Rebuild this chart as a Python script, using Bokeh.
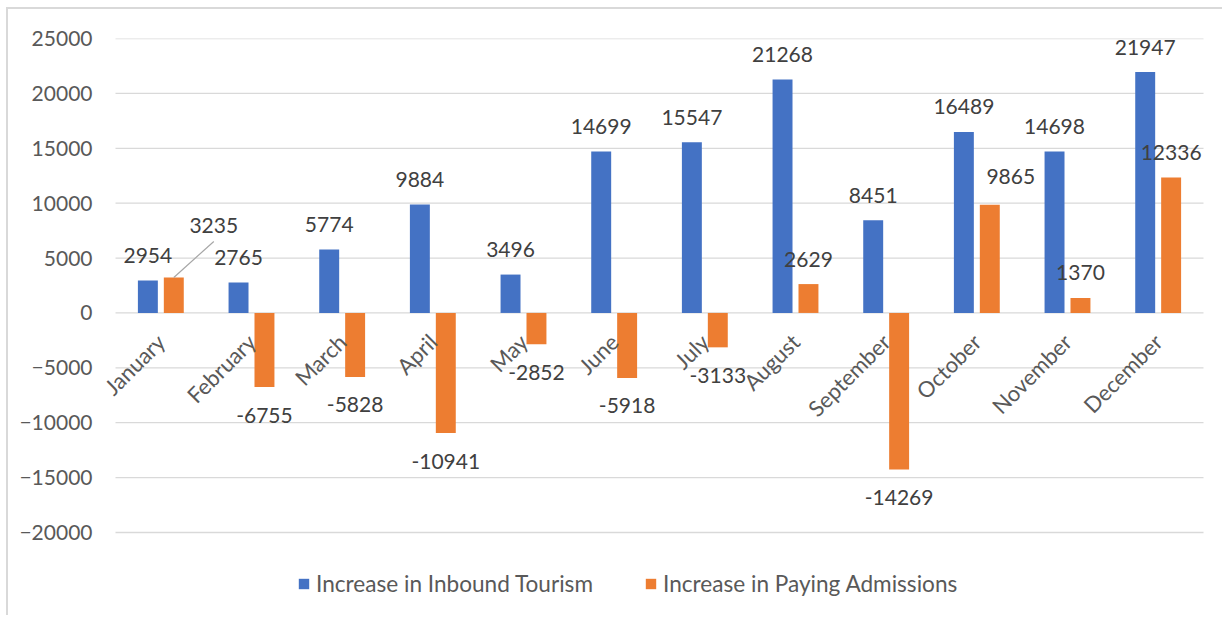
import math
from bokeh.plotting import figure
from bokeh.models import (ColumnDataSource, FactorRange, Range1d, FixedTicker,
                          Legend, LegendItem)
from bokeh.transform import dodge
from bokeh.core.properties import value
from bokeh.embed import file_html
from bokeh.resources import INLINE

# ---- data ----
months = ["January", "February", "March", "April", "May", "June", "July",
          "August", "September", "October", "November", "December"]
tourism = [2954, 2765, 5774, 9884, 3496, 14699, 15547, 21268, 8451, 16489, 14698, 21947]
admissions = [3235, -6755, -5828, -10941, -2852, -5918, -3133, 2629, -14269, 9865, 1370, 12336]
series_names = ["Increase in Inbound Tourism", "Increase in Paying Admissions"]
y_ticks = [-20000, -15000, -10000, -5000, 0, 5000, 10000, 15000, 20000, 25000]

# ---- style ----
BLUE = "#4472C4"
ORANGE = "#ED7D31"
GRID = "#D9D9D9"
AXIS_TXT = "#595959"
LBL_TXT = "#404040"
FONT = "Lato"
W, H = 1216, 608
ML, MR, MT = 90, 4, 29
PAD_PX = 17                       # frame reaches a little past the gridlines
grid_h = 494                      # pixels between top and bottom gridline
frame_w = W - ML - MR
frame_h = H - MT
cat_px = (frame_w - 2 * PAD_PX) / len(months)
units_per_px = (max(y_ticks) - min(y_ticks)) / grid_h
y_start = min(y_ticks) - (frame_h - grid_h) * units_per_px
OFF = 0.143
BAR_W = 0.22

x_range = FactorRange(*months, range_padding=PAD_PX / cat_px,
                      range_padding_units="absolute")
p = figure(width=W, height=H, x_range=x_range,
           y_range=Range1d(y_start, max(y_ticks)),
           output_backend="svg", toolbar_location=None,
           min_border_left=ML, min_border_right=MR, min_border_top=MT,
           min_border_bottom=0)
p.styles = {"margin-left": "6px", "margin-top": "7px",
            "border-left": "2px solid #D9D9D9", "border-top": "2px solid #D9D9D9"}
p.outline_line_color = None
p.background_fill_color = "white"
p.border_fill_color = "white"
p.xgrid.grid_line_color = None
p.ygrid.grid_line_color = None

# horizontal gridlines spanning exactly the category area
gsrc = ColumnDataSource(dict(y=y_ticks, x0=[0] * len(y_ticks),
                             x1=[len(months)] * len(y_ticks)))
p.segment(x0="x0", x1="x1", y0="y", y1="y", source=gsrc,
          line_color=GRID, line_width=1.3)

# category axis sits on the zero line, labels rotated 45 degrees
p.xaxis.fixed_location = 0
p.xaxis.axis_line_color = None
p.xaxis.major_tick_line_color = None
p.xaxis.minor_tick_line_color = None
p.xaxis.major_tick_out = 0
p.xaxis.major_tick_in = 0
p.xaxis.major_label_orientation = math.pi / 4
p.xaxis.major_label_standoff = 25
p.xaxis.major_label_text_font = FONT
p.xaxis.major_label_text_font_size = "22px"
p.xaxis.major_label_text_color = AXIS_TXT

p.yaxis.ticker = FixedTicker(ticks=y_ticks)
p.yaxis.axis_line_color = None
p.yaxis.major_tick_line_color = None
p.yaxis.minor_tick_line_color = None
p.yaxis.major_tick_out = 0
p.yaxis.major_tick_in = 0
p.yaxis.major_label_standoff = 6
p.yaxis.major_label_text_font = FONT
p.yaxis.major_label_text_font_size = "21px"
p.yaxis.major_label_text_color = AXIS_TXT

src = ColumnDataSource(dict(m=months, t=tourism, a=admissions))

rb = p.vbar(x=dodge("m", -OFF, range=p.x_range), top="t", bottom=0, width=BAR_W,
            source=src, fill_color=BLUE, line_color=None)
ro = p.vbar(x=dodge("m", OFF, range=p.x_range), top="a", bottom=0, width=BAR_W,
            source=src, fill_color=ORANGE, line_color=None)

# nudges for labels Excel moved to avoid overlaps (screen px)
nudge = {("a", 0): (40, -27), ("a", 9): (21, -3)}

def label_source(key, vals):
    xo, yo = [], []
    for i, v in enumerate(vals):
        dx, dy = nudge.get((key, i), (0, 0))
        xo.append(dx)
        yo.append((-25 if v >= 0 else 28) + dy)
    return ColumnDataSource(dict(m=months, v=vals, s=[str(v) for v in vals],
                                 xo=xo, yo=yo))

for key, vals, off in (("t", tourism, -OFF), ("a", admissions, OFF)):
    ls = label_source(key, vals)
    p.text(x=dodge("m", off, range=p.x_range), y="v", text="s", source=ls,
           x_offset="xo", y_offset="yo", text_align="center",
           text_baseline="alphabetic", text_font=value(FONT),
           text_font_size="21px", text_color=LBL_TXT)

# leader line for the moved January label
jdx, jdy = nudge[("a", 0)]
lead = ColumnDataSource(dict(m=[months[0]], y0=[admissions[0]],
                             y1=[admissions[0] + 36 * units_per_px]))
p.segment(x0=dodge("m", OFF, range=p.x_range), y0="y0",
          x1=dodge("m", OFF + jdx / cat_px, range=p.x_range), y1="y1",
          source=lead, line_color="#A6A6A6", line_width=1.2)

legend = Legend(items=[LegendItem(label=series_names[0], renderers=[rb]),
                       LegendItem(label=series_names[1], renderers=[ro])],
                orientation="horizontal", location=(182 + PAD_PX, 20),
                glyph_width=13, glyph_height=13, label_standoff=6, spacing=51,
                padding=0, margin=0, border_line_color=None,
                background_fill_alpha=0, label_text_font=FONT,
                label_text_font_size="22.6px", label_text_color=AXIS_TXT)
p.add_layout(legend, "center")

open("out.html", "w").write(file_html(p, INLINE))
